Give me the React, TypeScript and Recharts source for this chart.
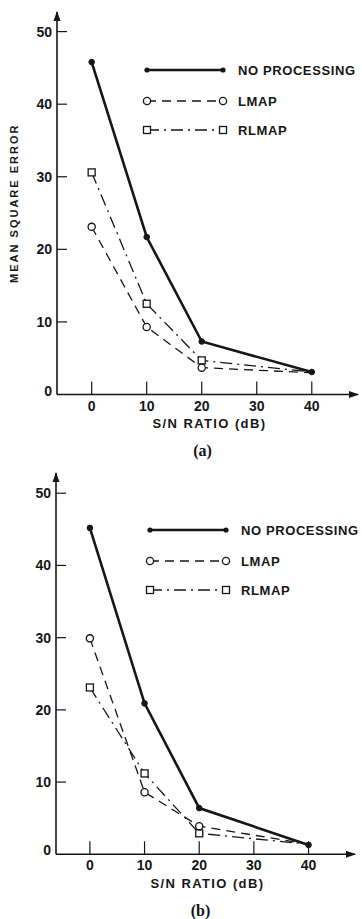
import { Legend, Line, LineChart, ReferenceDot, XAxis, YAxis } from "recharts";

// S/N ratio (dB) for each measurement
const snr = [0, 10, 20, 40];
const xTicks = [0, 10, 20, 30, 40];
const yTicks = [0, 10, 20, 30, 40, 50];

// panel (a)
const noProcA = [45.8, 21.7, 7.3, 3.1];
const lmapA = [23.1, 9.3, 3.7, 3.0];
const rlmapA = [30.6, 12.5, 4.7, 3.1];

// panel (b)
const noProcB = [45.2, 20.9, 6.4, 1.3];
const lmapB = [29.9, 8.6, 3.9, 1.4];
const rlmapB = [23.1, 11.2, 2.9, 1.4];

const INK = "#161616";
const FONT = "'Liberation Sans', Arial, sans-serif";

const build = (np: number[], lm: number[], rl: number[]) =>
  snr.map((s, i) => ({ snr: s, noProc: np[i], lmap: lm[i], rlmap: rl[i] }));

const XTick = ({ x, y, payload }: any) => (
  <g>
    <line x1={x} x2={x} y1={y} y2={y - 13} stroke={INK} strokeWidth={1.2} />
    <text
      x={x}
      y={y + 11}
      textAnchor="middle"
      dominantBaseline="central"
      fontFamily={FONT}
      fontWeight="bold"
      fontSize={14}
      fill={INK}
    >
      {payload.value}
    </text>
  </g>
);

const YTick = ({ x, y, payload }: any) => (
  <g>
    {payload.value !== 0 && (
      <line x1={x} x2={x + 10} y1={y} y2={y} stroke={INK} strokeWidth={1.2} />
    )}
    <text
      x={x - 5}
      y={payload.value === 0 ? y - 4 : y}
      textAnchor="end"
      dominantBaseline="central"
      fontFamily={FONT}
      fontWeight="bold"
      fontSize={14}
      fill={INK}
    >
      {payload.value}
    </text>
  </g>
);

// the open markers at 40 dB sit under the solid line's end dot
const Square = (props: any) => {
  const { cx, cy, index } = props;
  if (index === snr.length - 1) return <g key={`sq-${index}`} />;
  return (
    <rect
      key={`sq-${index}`}
      x={cx - 3.5}
      y={cy - 3.5}
      width={7}
      height={7}
      fill="white"
      stroke={INK}
      strokeWidth={1.3}
    />
  );
};

const Ring = (props: any) => {
  const { cx, cy, index } = props;
  if (index === snr.length - 1) return <g key={`ring-${index}`} />;
  return <circle key={`ring-${index}`} cx={cx} cy={cy} r={3.6} fill="white" stroke={INK} strokeWidth={1.3} />;
};

function LegendBox() {
  const rows = [
    { label: "NO PROCESSING", dash: undefined, w: 2.6, kind: "dot" },
    { label: "LMAP", dash: "9 6", w: 1.3, kind: "circle" },
    { label: "RLMAP", dash: "12 5 2 5", w: 1.3, kind: "square" },
  ];
  return (
    <svg width={222} height={90}>
      {rows.map((r, i) => {
        const y = 12 + i * 31 - (i === 2 ? 2 : 0);
        const mark = (cx: number) =>
          r.kind === "dot" ? (
            <circle cx={cx} cy={y} r={2.6} fill={INK} />
          ) : r.kind === "circle" ? (
            <circle cx={cx} cy={y} r={3.6} fill="white" stroke={INK} strokeWidth={1.3} />
          ) : (
            <rect x={cx - 3.5} y={y - 3.5} width={7} height={7} fill="white" stroke={INK} strokeWidth={1.3} />
          );
        return (
          <g key={r.label}>
            <line x1={7} x2={83} y1={y} y2={y} stroke={INK} strokeWidth={r.w} strokeDasharray={r.dash} />
            {mark(7)}
            {mark(83)}
            <text
              x={98}
              y={y}
              dominantBaseline="central"
              fontFamily={FONT}
              fontWeight="bold"
              fontSize={13}
              letterSpacing={0.6}
              fill={INK}
            >
              {r.label}
            </text>
          </g>
        );
      })}
    </svg>
  );
}

function Panel({
  np,
  lm,
  rl,
  caption,
  xDomain,
  yMax,
  margin,
  legendLeft,
  showYLabel,
}: {
  np: number[];
  lm: number[];
  rl: number[];
  caption: string;
  xDomain: [number, number];
  yMax: number;
  margin: { top: number; right: number; bottom: number; left: number };
  legendLeft: number;
  showYLabel: boolean;
}) {
  const data = build(np, lm, rl);
  return (
    <LineChart width={362} height={460} data={data} margin={margin}>
      <XAxis
        dataKey="snr"
        type="number"
        domain={xDomain}
        allowDataOverflow
        ticks={xTicks}
        interval={0}
        height={30}
        tickSize={0}
        tickMargin={0}
        tickLine={false}
        axisLine={{ stroke: INK, strokeWidth: 1.6 }}
        tick={<XTick />}
        label={{
          content: ({ viewBox }: any) => {
            const cx = viewBox.x + viewBox.width / 2 + 2;
            return (
              <g>
                <text
                  x={cx}
                  y={viewBox.y + 29}
                  textAnchor="middle"
                  dominantBaseline="central"
                  fontFamily={FONT}
                  fontWeight="bold"
                  fontSize={13}
                  letterSpacing={1.4}
                  fill={INK}
                >
                  S/N RATIO (dB)
                </text>
                <text
                  x={cx - 7}
                  y={viewBox.y + 56}
                  textAnchor="middle"
                  dominantBaseline="central"
                  fontFamily="'Liberation Serif', serif"
                  fontWeight="bold"
                  fontSize={16}
                  fill={INK}
                >
                  {caption}
                </text>
              </g>
            );
          },
        }}
      />
      <YAxis
        type="number"
        domain={[0, yMax]}
        allowDataOverflow
        ticks={yTicks}
        interval={0}
        width={50}
        tickSize={0}
        tickMargin={0}
        tickLine={false}
        axisLine={{ stroke: INK, strokeWidth: 1.6 }}
        tick={<YTick />}
        label={
          showYLabel
            ? {
                content: ({ viewBox }: any) => {
                  const lx = viewBox.x + 7;
                  const ly = viewBox.y + viewBox.height / 2;
                  return (
                    <text
                      x={lx}
                      y={ly}
                      transform={`rotate(-90 ${lx} ${ly})`}
                      textAnchor="middle"
                      dominantBaseline="central"
                      fontFamily={FONT}
                      fontWeight="bold"
                      fontSize={11}
                      letterSpacing={2}
                      fill={INK}
                    >
                      MEAN SQUARE ERROR
                    </text>
                  );
                },
              }
            : undefined
        }
      />
      <ReferenceDot
        x={xDomain[1]}
        y={0}
        ifOverflow="visible"
        shape={({ cx, cy }: any) => (
          <polygon points={`${cx + 1},${cy} ${cx - 9},${cy - 3.5} ${cx - 9},${cy + 3.5}`} fill={INK} />
        )}
      />
      <ReferenceDot
        x={xDomain[0]}
        y={yMax}
        ifOverflow="visible"
        shape={({ cx, cy }: any) => (
          <polygon points={`${cx},${cy - 1} ${cx - 3.5},${cy + 9} ${cx + 3.5},${cy + 9}`} fill={INK} />
        )}
      />
      <Legend
        layout="vertical"
        align="center"
        verticalAlign="middle"
        content={() => <LegendBox />}
        wrapperStyle={{ position: "absolute", left: legendLeft, top: 58, width: 222, height: 90 }}
      />
      <Line
        dataKey="rlmap"
        stroke={INK}
        strokeWidth={1.3}
        strokeDasharray="12 5 2 5"
        dot={Square}
        activeDot={false}
        isAnimationActive={false}
      />
      <Line
        dataKey="lmap"
        stroke={INK}
        strokeWidth={1.3}
        strokeDasharray="9 6"
        dot={Ring}
        activeDot={false}
        isAnimationActive={false}
      />
      <Line
        dataKey="noProc"
        stroke={INK}
        strokeWidth={2.6}
        dot={{ r: 2.8, fill: INK, stroke: INK, strokeWidth: 1 }}
        activeDot={false}
        isAnimationActive={false}
      />
    </LineChart>
  );
}

export default function App() {
  return (
    <div
      style={{
        position: "absolute",
        left: 0,
        top: 0,
        width: 362,
        height: 919,
        background: "white",
        overflow: "hidden",
      }}
    >
      <div style={{ position: "absolute", left: 0, top: 0 }}>
        <Panel
          np={noProcA}
          lm={lmapA}
          rl={rlmapA}
          caption="(a)"
          xDomain={[-6.3, 48.4]}
          yMax={52.7}
          margin={{ top: 12, right: 4, bottom: 35.5, left: 7 }}
          legendLeft={140}
          showYLabel
        />
      </div>
      <div style={{ position: "absolute", left: 0, top: 460 }}>
        <Panel
          np={noProcB}
          lm={lmapB}
          rl={rlmapB}
          caption="(b)"
          xDomain={[-6.2, 48.5]}
          yMax={52.8}
          margin={{ top: 13, right: 7, bottom: 35.7, left: 6 }}
          legendLeft={143}
          showYLabel={false}
        />
      </div>
    </div>
  );
}
